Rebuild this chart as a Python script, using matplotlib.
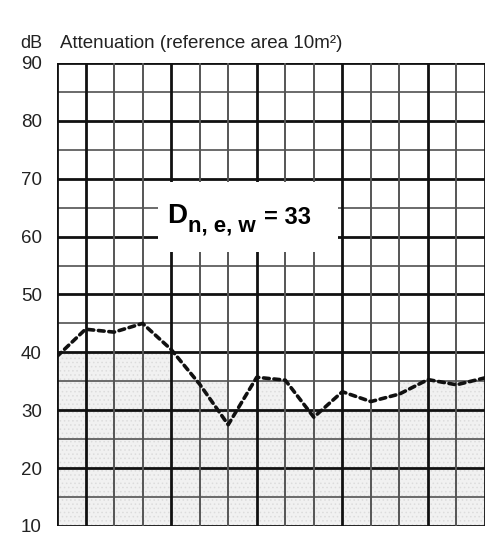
import numpy as np
import matplotlib.pyplot as plt

# third-octave bands 100 Hz .. 3150 Hz, plotted at equal spacing
freqs = [100, 125, 160, 200, 250, 315, 400, 500, 630, 800,
         1000, 1250, 1600, 2000, 2500, 3150]
atten = [39.3, 44.0, 43.5, 45.0, 40.5, 34.5, 27.5, 35.7, 35.2, 28.8,
         33.2, 31.5, 32.8, 35.3, 34.4, 35.6]
# light shaded band per column (top edge in dB)
shade_top = [40, 40, 40, 40, 35, 35, 30, 35, 30, 30, 30, 30, 35, 35, 35]
octave_bands = [100, 125, 250, 500, 1000, 2000, 3150]
y_ticks = [10, 20, 30, 40, 50, 60, 70, 80, 90]

plt.rcParams['font.family'] = ['Liberation Sans', 'DejaVu Sans']
plt.rcParams['hatch.color'] = '#dddddd'
plt.rcParams['hatch.linewidth'] = 0.6

fig = plt.figure(figsize=(4.95, 5.37), dpi=100)
ax = fig.add_axes([57 / 495, 11 / 537, 428 / 495, 463 / 537])

xs = np.arange(len(freqs))

# shading below the band levels
for i, top in enumerate(shade_top):
    ax.fill_between([i, i + 1], 10, top, facecolor='#f1f1f1', hatch='....',
                    edgecolor='#dcdcdc', lw=0, zorder=0)

# horizontal grid
for v in range(10, 91, 5):
    if v % 10 == 0:
        ax.axhline(v, color='#111111', lw=2.0, zorder=1)
    else:
        ax.axhline(v, color='#6a6a6a', lw=1.4, zorder=1)

# vertical grid
for i, f in enumerate(freqs):
    if f in octave_bands:
        ax.axvline(i, color='#111111', lw=2.0, zorder=1)
    else:
        ax.axvline(i, color='#555555', lw=1.4, zorder=1)

# white label box
ax.fill_between([3.55, 9.85], 57.3, 69.5, color='white', lw=0, zorder=2)
ax.text(3.85, 63.6, 'D', fontsize=20, fontweight='bold',
        va='center', ha='left', zorder=3)
ax.text(4.6, 61.9, 'n, e, w', fontsize=16, fontweight='bold',
        va='center', ha='left', zorder=3)
ax.text(7.25, 63.3, '= 33', fontsize=17, fontweight='bold',
        va='center', ha='left', zorder=3)

# measured curve
ax.plot(xs, atten, color='#111111', lw=2.6, linestyle=(0, (1.6, 1.3)),
        dash_capstyle='round', zorder=4)

ax.set_xlim(0, len(freqs) - 1)
ax.set_ylim(10, 90)
ax.set_xticks([])
ax.set_yticks(y_ticks)
ax.set_yticklabels([str(t) for t in y_ticks], fontsize=13.5, color='#222222')
ax.tick_params(axis='y', length=0, pad=11)
for s in ax.spines.values():
    s.set_visible(False)

fig.text(20 / 495, 1 - 43 / 537, 'dB', fontsize=13, va='center', ha='left', color='#222222')
fig.text(60 / 495, 1 - 43 / 537, 'Attenuation (reference area 10m\u00b2)', fontsize=13.5,
         va='center', ha='left', color='#222222')

fig.savefig('out.png', dpi=100, facecolor='white')
